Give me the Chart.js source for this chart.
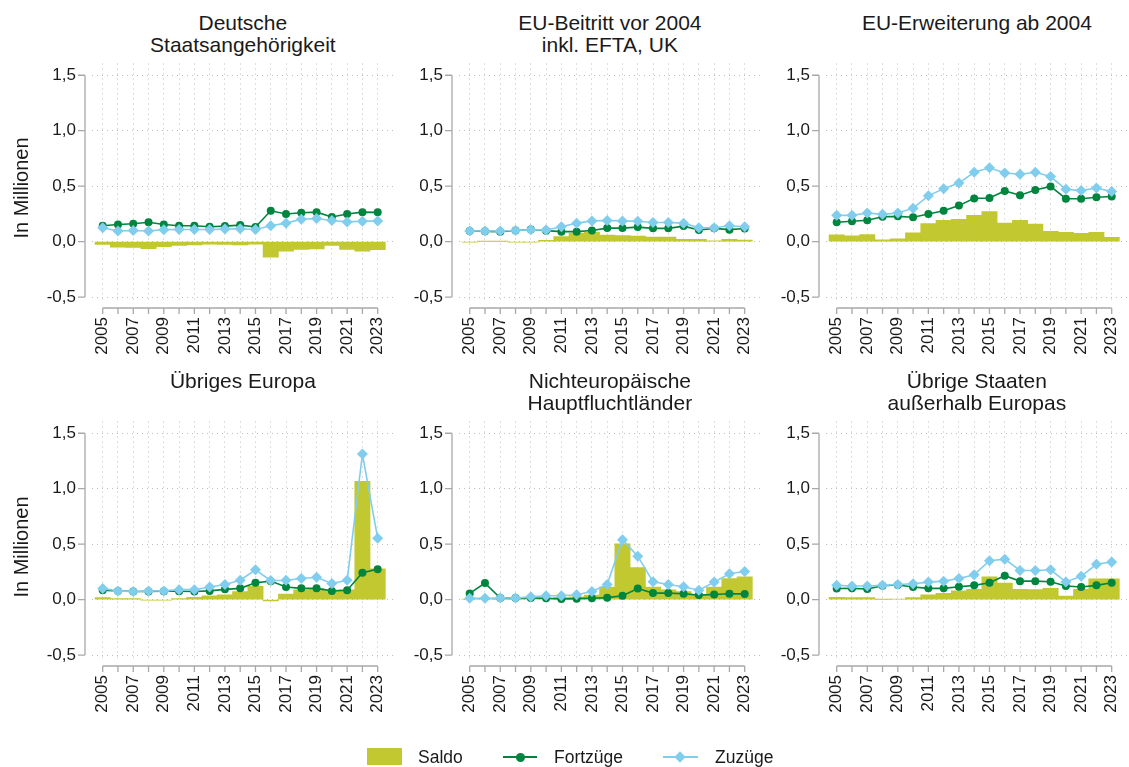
<!DOCTYPE html>
<html>
<head>
<meta charset="utf-8">
<script src="https://cdn.jsdelivr.net/npm/chart.js@4/dist/chart.umd.min.js"></script>
<style>
  html, body { margin: 0; padding: 0; background: #fff; overflow: hidden; }
  body { width: 1129px; height: 767px; position: relative; font-family: 'Liberation Sans', Arial, sans-serif; color: #1a1a1a; }
  canvas { position: absolute; }
  .title { position: absolute; width: 360px; text-align: center; font-size: 21px; line-height: 22px; white-space: nowrap; }
  .ylab { position: absolute; font-size: 20px; white-space: nowrap; transform: translate(-50%, -50%) rotate(-90deg); }
  .leg { position: absolute; font-size: 17.5px; line-height: 20px; white-space: nowrap; }
  .legbox { position: absolute; }
</style>
</head>
<body>
<script>
// ---------------- DATA ----------------
const years = [2005,2006,2007,2008,2009,2010,2011,2012,2013,2014,2015,2016,2017,2018,2019,2020,2021,2022,2023];
const yTicks = [-0.5, 0, 0.5, 1.0, 1.5];
const seriesNames = ['Saldo', 'Fortzüge', 'Zuzüge'];

// Deutsche Staatsangehörigkeit
const deSaldo = [-0.025,-0.050,-0.052,-0.063,-0.045,-0.033,-0.030,-0.022,-0.025,-0.030,-0.022,-0.139,-0.086,-0.070,-0.065,-0.035,-0.070,-0.086,-0.072];
const deFort  = [0.143,0.155,0.161,0.175,0.155,0.143,0.143,0.134,0.140,0.149,0.132,0.278,0.249,0.260,0.266,0.222,0.249,0.266,0.264];
const deZu    = [0.125,0.096,0.100,0.096,0.108,0.110,0.110,0.110,0.113,0.116,0.110,0.143,0.167,0.202,0.208,0.190,0.178,0.184,0.187];

// EU-Beitritt vor 2004 inkl. EFTA, UK
const eu15Saldo = [-0.004,0.002,0.002,-0.004,-0.004,0.012,0.046,0.078,0.084,0.060,0.055,0.050,0.042,0.042,0.020,0.020,0.008,0.020,0.015];
const eu15Fort  = [0.096,0.093,0.090,0.100,0.110,0.099,0.090,0.090,0.100,0.122,0.122,0.131,0.120,0.120,0.140,0.105,0.120,0.108,0.118];
const eu15Zu    = [0.096,0.096,0.096,0.100,0.108,0.105,0.134,0.167,0.187,0.190,0.187,0.184,0.173,0.173,0.167,0.125,0.125,0.143,0.135];

// EU-Erweiterung ab 2004
const euOstSaldo = [0.061,0.052,0.064,0.017,0.026,0.079,0.164,0.193,0.202,0.237,0.270,0.167,0.193,0.158,0.093,0.084,0.075,0.084,0.040];
const euOstFort  = [0.175,0.184,0.193,0.225,0.228,0.220,0.249,0.278,0.325,0.390,0.393,0.457,0.419,0.466,0.498,0.387,0.387,0.400,0.407];
const euOstZu    = [0.237,0.237,0.258,0.246,0.258,0.302,0.413,0.478,0.528,0.625,0.666,0.619,0.607,0.625,0.587,0.472,0.460,0.484,0.452];

// Übriges Europa
const eurSaldo = [0.018,0.009,0.009,-0.005,-0.005,0.010,0.020,0.035,0.044,0.073,0.120,-0.012,0.050,0.088,0.097,0.076,0.088,1.067,0.278];
const eurFort  = [0.085,0.079,0.073,0.073,0.076,0.076,0.073,0.079,0.093,0.102,0.152,0.167,0.114,0.102,0.102,0.079,0.085,0.243,0.275];
const eurZu    = [0.100,0.079,0.073,0.079,0.079,0.090,0.090,0.114,0.137,0.175,0.269,0.172,0.175,0.190,0.202,0.146,0.175,1.313,0.553];

// Nichteuropäische Hauptfluchtländer
const flSaldo = [0.005,0.005,0.003,0.003,0.010,0.015,0.020,0.025,0.041,0.114,0.503,0.289,0.114,0.088,0.073,0.044,0.114,0.190,0.205];
const flFort  = [0.056,0.149,0.015,0.015,0.015,0.012,0.006,0.009,0.012,0.018,0.035,0.100,0.059,0.059,0.053,0.041,0.047,0.053,0.052];
const flZu    = [0.012,0.012,0.015,0.015,0.026,0.035,0.035,0.044,0.073,0.137,0.541,0.392,0.161,0.137,0.117,0.085,0.158,0.234,0.254];

// Übrige Staaten außerhalb Europas
const restSaldo = [0.020,0.018,0.018,0.003,0.006,0.018,0.044,0.056,0.079,0.094,0.205,0.149,0.094,0.091,0.102,0.032,0.094,0.187,0.187];
const restFort  = [0.100,0.102,0.096,0.126,0.132,0.114,0.102,0.102,0.117,0.129,0.152,0.216,0.167,0.167,0.161,0.123,0.114,0.129,0.152];
const restZu    = [0.129,0.123,0.123,0.129,0.137,0.143,0.158,0.167,0.190,0.225,0.351,0.365,0.263,0.263,0.269,0.160,0.210,0.319,0.339];

const panelTitles = [
  ['Deutsche', 'Staatsangehörigkeit'],
  ['EU-Beitritt vor 2004', 'inkl. EFTA, UK'],
  ['EU-Erweiterung ab 2004'],
  ['Übriges Europa'],
  ['Nichteuropäische', 'Hauptfluchtländer'],
  ['Übrige Staaten', 'außerhalb Europas']
];
const panelData = [
  [deSaldo, deFort, deZu],
  [eu15Saldo, eu15Fort, eu15Zu],
  [euOstSaldo, euOstFort, euOstZu],
  [eurSaldo, eurFort, eurZu],
  [flSaldo, flFort, flZu],
  [restSaldo, restFort, restZu]
];
const yAxisTitle = 'In Millionen';

// ---------------- STYLE / LAYOUT ----------------
const C_SALDO = '#c2c82f';
const C_FORT = '#00853f';
const C_ZU = '#80cdee';
const C_AXIS = '#a8a8a8';
const C_GRID = '#bdbdbd';
const C_TEXT = '#1a1a1a';
const FONT = "'Liberation Sans', Arial, sans-serif";

const COL_LEFT = [92, 459, 826];
const ROW_TOP = [58, 416];
const PLOT_W = 308, PLOT_H = 242, YAX_W = 80, XAX_H = 70;
const X_MIN = 2004.3, X_MAX = 2024.1;
const Y_MIN = -0.526, Y_MAX = 1.606;

Chart.defaults.font.family = FONT;
Chart.defaults.color = C_TEXT;

const axisPlugin = {
  id: 'detachedAxes',
  afterDraw(chart) {
    const {ctx, chartArea, scales: {x, y}} = chart;
    ctx.save();
    ctx.strokeStyle = C_AXIS;
    ctx.lineWidth = 1.3;
    ctx.beginPath();
    const ax = chartArea.left - 7;
    ctx.moveTo(ax, y.getPixelForValue(yTicks[yTicks.length - 1]));
    ctx.lineTo(ax, y.getPixelForValue(yTicks[0]));
    yTicks.forEach(v => { const p = y.getPixelForValue(v); ctx.moveTo(ax - 7, p); ctx.lineTo(ax, p); });
    const ay = chartArea.bottom + 8;
    ctx.moveTo(x.getPixelForValue(years[0]), ay);
    ctx.lineTo(x.getPixelForValue(years[years.length - 1]), ay);
    years.forEach(v => { const p = x.getPixelForValue(v); ctx.moveTo(p, ay); ctx.lineTo(p, ay + 6); });
    ctx.stroke();
    ctx.restore();
  }
};

function pts(vals) { return years.map((yr, i) => ({x: yr, y: vals[i]})); }

panelData.forEach((d, idx) => {
  const col = idx % 3, row = Math.floor(idx / 3);
  const left = COL_LEFT[col], top = ROW_TOP[row];

  const cv = document.createElement('canvas');
  cv.width = YAX_W + PLOT_W; cv.height = PLOT_H + XAX_H;
  cv.style.left = (left - YAX_W) + 'px';
  cv.style.top = top + 'px';
  cv.style.width = cv.width + 'px';
  cv.style.height = cv.height + 'px';
  document.body.appendChild(cv);

  // title
  const t = document.createElement('div');
  t.className = 'title';
  const cx = left + (2014 - X_MIN) * PLOT_W / (X_MAX - X_MIN);
  t.style.left = (cx - 180) + 'px';
  t.style.top = (top - 46.25) + 'px';
  t.innerHTML = panelTitles[idx].join('<br>');
  document.body.appendChild(t);

  new Chart(cv, {
    type: 'bar',
    data: {
      datasets: [
        { type: 'line', label: seriesNames[2], data: pts(d[2]), borderColor: C_ZU, backgroundColor: C_ZU,
          borderWidth: 1.6, pointStyle: 'rectRot', pointRadius: 5.5, pointBorderWidth: 0, pointBackgroundColor: C_ZU,
          tension: 0, order: 1 },
        { type: 'line', label: seriesNames[1], data: pts(d[1]), borderColor: C_FORT, backgroundColor: C_FORT,
          borderWidth: 1.6, pointStyle: 'circle', pointRadius: 4, pointBorderWidth: 0, pointBackgroundColor: C_FORT,
          tension: 0, order: 2 },
        { type: 'bar', label: seriesNames[0], data: pts(d[0]), backgroundColor: C_SALDO, borderWidth: 0,
          barPercentage: 1.0, categoryPercentage: 1.0, order: 3 }
      ]
    },
    options: {
      responsive: false,
      animation: false,
      events: [],
      layout: { padding: 0 },
      plugins: { legend: { display: false }, title: { display: false }, tooltip: { enabled: false } },
      scales: {
        x: {
          type: 'linear', min: X_MIN, max: X_MAX, offset: false,
          grid: { offset: false, color: C_GRID, lineWidth: 1, drawTicks: false },
          border: { display: false, dash: [1, 4] },
          afterBuildTicks: s => { s.ticks = years.map(v => ({value: v})); },
          afterFit: s => { s.height = XAX_H; s.paddingLeft = 0; s.paddingRight = 0; },
          ticks: {
            autoSkip: false, minRotation: 90, maxRotation: 90, padding: 17,
            font: { size: 17 }, color: C_TEXT,
            callback: v => (v % 2 === 1 ? String(v) : '')
          }
        },
        y: {
          type: 'linear', min: Y_MIN, max: Y_MAX,
          grid: { color: C_GRID, lineWidth: 1, drawTicks: false },
          border: { display: false, dash: [1, 4] },
          afterBuildTicks: s => { s.ticks = yTicks.map(v => ({value: v})); },
          afterFit: s => { s.width = YAX_W; s.paddingTop = 0; s.paddingBottom = 0; },
          ticks: {
            padding: 16, font: { size: 17 }, color: C_TEXT,
            callback: v => v.toFixed(1).replace('.', ',')
          }
        }
      }
    },
    plugins: [axisPlugin]
  });
});

// y axis titles
[188, 547].forEach(cy => {
  const l = document.createElement('div');
  l.className = 'ylab';
  l.style.left = '20.5px';
  l.style.top = cy + 'px';
  l.textContent = yAxisTitle;
  document.body.appendChild(l);
});

// legend
function addEl(cls, css, text) {
  const e = document.createElement('div');
  e.className = cls;
  Object.assign(e.style, css);
  if (text) e.textContent = text;
  document.body.appendChild(e);
}
addEl('legbox', {left: '367px', top: '748px', width: '35px', height: '17px', background: C_SALDO});
addEl('leg', {left: '418px', top: '747px'}, seriesNames[0]);
addEl('legbox', {left: '503px', top: '756px', width: '34px', height: '2px', background: C_FORT});
addEl('legbox', {left: '515.5px', top: '752.5px', width: '9px', height: '9px', borderRadius: '50%', background: C_FORT});
addEl('leg', {left: '554px', top: '747px'}, seriesNames[1]);
addEl('legbox', {left: '663px', top: '756px', width: '35px', height: '2px', background: C_ZU});
addEl('legbox', {left: '676px', top: '753px', width: '8px', height: '8px', background: C_ZU, transform: 'rotate(45deg)'});
addEl('leg', {left: '715px', top: '747px'}, seriesNames[2]);
</script>
</body>
</html>
